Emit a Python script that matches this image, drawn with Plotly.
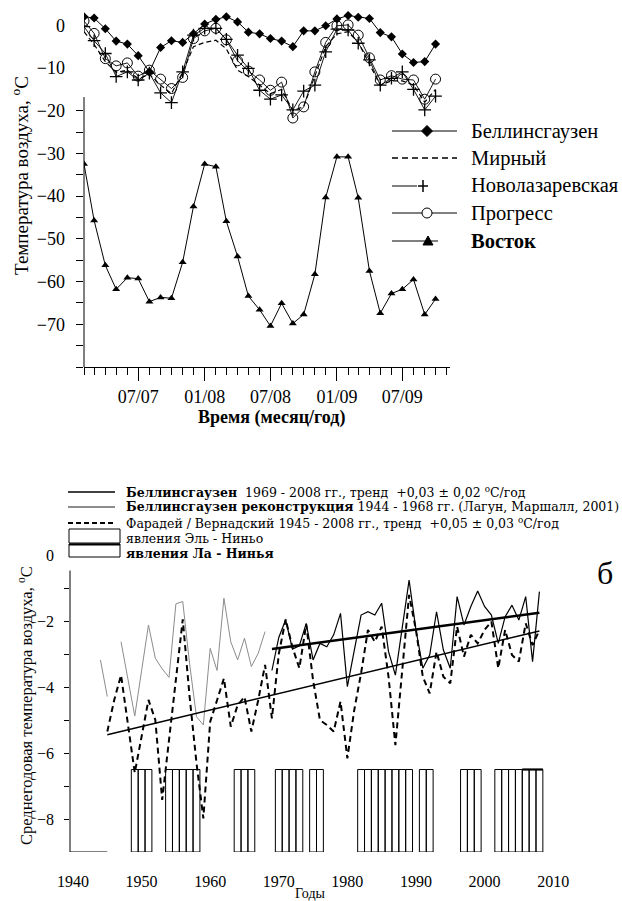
import plotly.graph_objects as go

W, H = 622, 901
FONT = "Liberation Serif, Tinos, Times New Roman, DejaVu Serif, serif"
WIDE_FONT = "DejaVu Serif, Liberation Serif, serif"

# ---------------- top panel data ----------------
months = ["2007-02-01", "2007-03-01", "2007-04-01", "2007-05-01", "2007-06-01", "2007-07-01",
          "2007-08-01", "2007-09-01", "2007-10-01", "2007-11-01", "2007-12-01",
          "2008-01-01", "2008-02-01", "2008-03-01", "2008-04-01", "2008-05-01", "2008-06-01",
          "2008-07-01", "2008-08-01", "2008-09-01", "2008-10-01", "2008-11-01", "2008-12-01",
          "2009-01-01", "2009-02-01", "2009-03-01", "2009-04-01", "2009-05-01", "2009-06-01",
          "2009-07-01", "2009-08-01", "2009-09-01", "2009-10-01"]

bellingshausen = [2.0, 1.7, -0.8, -3.7, -4.4, -7.1, -10.9, -5.2, -3.6, -4.0, -2.0,
                  0.3, 1.4, 2.0, 0.8, -1.6, -2.0, -3.1, -3.7, -5.0, -1.3, -1.3, -0.1,
                  1.5, 2.3, 1.9, 1.6, -1.7, -2.7, -6.7, -8.7, -8.5, -4.4]
mirny = [-1.5, -4.5, -8.5, -11.0, -10.5, -12.5, -11.5, -14.0, -16.0, -11.0, -5.0,
         -4.0, -3.5, -5.5, -10.5, -12.0, -14.0, -16.0, -15.0, -20.0, -19.0, -12.0, -5.0,
         -2.0, -1.5, -4.0, -9.0, -14.0, -13.0, -13.0, -14.0, -18.0, -15.0]
novolazarevskaya = [-0.3, -3.6, -6.6, -12.0, -10.9, -12.8, -11.2, -15.8, -18.1, -10.9, -2.3,
                    -0.7, -0.7, -3.3, -7.0, -10.1, -15.2, -17.3, -16.3, -19.8, -15.4, -14.0, -6.2,
                    -0.9, -1.1, -4.2, -8.1, -14.0, -12.4, -10.9, -15.0, -19.8, -16.6]
progress = [1.0, -1.9, -7.8, -9.5, -8.8, -11.9, -10.5, -12.6, -14.8, -12.2, -3.1,
            -1.3, -0.7, -3.4, -8.3, -10.7, -12.8, -15.2, -13.3, -21.7, -19.1, -10.9, -4.0,
            -0.1, 0.1, -2.3, -7.6, -12.8, -11.8, -12.6, -12.8, -17.3, -12.6]
vostok = [-32.5, -45.7, -56.2, -61.8, -59.1, -59.3, -64.7, -63.7, -63.9, -55.5, -42.4,
          -32.5, -33.1, -45.9, -54.1, -63.4, -66.6, -70.4, -65.1, -69.8, -67.7, -58.3, -40.3,
          -30.8, -30.8, -40.4, -57.5, -67.4, -62.8, -61.8, -59.5, -67.7, -64.1]

top_ytick_vals = [0, -10, -20, -30, -40, -50, -60, -70]
top_legend_names = ["Беллинсгаузен", "Мирный", "Новолазаревская", "Прогресс", "Восток"]

# ---------------- bottom panel data ----------------
recon_years = list(range(1944, 1969))
recon_vals = [-3.18, -4.29, None, -2.63, -3.8, -4.88, -3.5, -2.12, -3.13, -3.45, -3.71,
              -1.48, -1.41, -3.3, -4.9, -5.15, -2.83, -3.5, -1.31, -2.63, -3.18, -2.52,
              -3.38, -2.98, -2.32]

bel_years = list(range(1969, 2009))
bel_vals = [-3.5, -2.5, -1.97, -2.85, -2.75, -2.07, -3.18, -2.68, -2.78, -2.42,
            -1.77, -3.99, -2.9, -1.82, -1.72, -1.82, -1.46, -2.93, -3.64, -2.2,
            -0.76, -2.27, -3.43, -3.03, -1.72, -2.88, -3.43, -1.26, -2.12, -1.56,
            -1.09, -1.56, -1.82, -2.68, -1.87, -1.52, -1.97, -1.26, -3.23, -1.11]

far_years = list(range(1945, 2009))
far_vals = [-5.35, -4.4, -3.64, -5.1, -6.6, -5.5, -4.39, -5.0, -7.42, -5.6,
            -3.8, -1.95, -4.3, -6.3, -7.98, -5.05, -4.4, -3.74, -5.2, -4.55,
            -4.3, -5.35, -4.4, -3.33, -4.95, -3.0, -1.95, -2.8, -3.43, -2.1,
            -3.8, -5.0, -5.15, -5.35, -4.44, -6.16, -4.7, -3.58, -2.27, -2.63,
            -2.17, -3.69, -5.76, -3.5, -1.21, -2.27, -3.69, -4.19, -2.93, -3.69,
            -3.89, -2.17, -3.08, -2.42, -2.68, -2.27, -2.02, -3.43, -2.27, -3.03,
            -3.23, -2.07, -2.73, -2.27]

trend_bel_years = [1969, 2008]
trend_bel_vals = [-2.85, -1.75]
trend_far_years = [1945, 2008]
trend_far_vals = [-5.45, -2.30]

enso_years = [1949, 1950, 1951, 1954, 1955, 1956, 1957, 1958, 1964, 1965, 1966,
              1970, 1971, 1972, 1973, 1975, 1976, 1982, 1983, 1984, 1985, 1986, 1987,
              1988, 1989, 1991, 1992, 1997, 1998, 1999, 2002, 2003, 2004, 2005, 2006,
              2007, 2008]
la_nina_years = [2006, 2007, 2008]
enso_base = -9.0
enso_top = -6.5

bottom_xtick_vals = [1940, 1950, 1960, 1970, 1980, 1990, 2000, 2010]
bottom_ytick_vals = [0, -2, -4, -6, -8]


def px(x):
    return x / W


def py(y):
    return 1 - y / H


fig = go.Figure()

# ---------------- top traces ----------------
blk = "black"
fig.add_trace(go.Scatter(x=months, y=mirny, mode="lines",
                         line=dict(color=blk, width=1.2, dash="5px,3px"),
                         xaxis="x", yaxis="y", name=top_legend_names[1]))
fig.add_trace(go.Scatter(x=months, y=novolazarevskaya, mode="lines+markers",
                         line=dict(color=blk, width=0.9),
                         marker=dict(symbol="cross-thin", size=9, line=dict(color=blk, width=1.3)),
                         xaxis="x", yaxis="y", name=top_legend_names[2]))
fig.add_trace(go.Scatter(x=months, y=progress, mode="lines+markers",
                         line=dict(color=blk, width=0.9),
                         marker=dict(symbol="circle-open", size=10, color=blk, line=dict(color=blk, width=1)),
                         xaxis="x", yaxis="y", name=top_legend_names[3]))
fig.add_trace(go.Scatter(x=months, y=bellingshausen, mode="lines+markers",
                         line=dict(color=blk, width=1),
                         marker=dict(symbol="diamond", size=7, color=blk),
                         xaxis="x", yaxis="y", name=top_legend_names[0]))
fig.add_trace(go.Scatter(x=months, y=vostok, mode="lines+markers",
                         line=dict(color=blk, width=1),
                         marker=dict(symbol="triangle-up", size=7, color=blk),
                         xaxis="x", yaxis="y", name=top_legend_names[4]))

# ---------------- bottom traces ----------------
fig.add_trace(go.Bar(x=enso_years, y=[enso_top - enso_base] * len(enso_years), base=enso_base,
                     width=1, marker=dict(color="rgba(0,0,0,0)", line=dict(color=blk, width=1)),
                     xaxis="x2", yaxis="y2"))
fig.add_trace(go.Scatter(x=[min(la_nina_years) - 0.5, max(la_nina_years) + 0.5], y=[enso_top, enso_top],
                         mode="lines", line=dict(color=blk, width=2.2), xaxis="x2", yaxis="y2"))
fig.add_trace(go.Scatter(x=recon_years, y=recon_vals, mode="lines", connectgaps=False,
                         line=dict(color="#8c8c8c", width=1), xaxis="x2", yaxis="y2"))
fig.add_trace(go.Scatter(x=far_years, y=far_vals, mode="lines",
                         line=dict(color=blk, width=2, dash="6px,4px"), xaxis="x2", yaxis="y2"))
fig.add_trace(go.Scatter(x=bel_years, y=bel_vals, mode="lines",
                         line=dict(color=blk, width=1.2), xaxis="x2", yaxis="y2"))
fig.add_trace(go.Scatter(x=trend_far_years, y=trend_far_vals, mode="lines",
                         line=dict(color=blk, width=1.5), xaxis="x2", yaxis="y2"))
fig.add_trace(go.Scatter(x=trend_bel_years, y=trend_bel_vals, mode="lines",
                         line=dict(color=blk, width=2.6), xaxis="x2", yaxis="y2"))

# ---------------- shapes ----------------
shapes = []
shapes.append(dict(type="line", xref="paper", yref="y", x0=px(84), x1=px(84), y0=-16.8, y1=-80,
                   line=dict(color=blk, width=1)))
shapes.append(dict(type="line", xref="paper", yref="y2", x0=px(70), x1=px(70), y0=-0.47, y1=-9,
                   line=dict(color=blk, width=1)))
shapes.append(dict(type="line", xref="x2", yref="y2", x0=1939.56, x1=1945, y0=-9, y1=-9,
                   line=dict(color=blk, width=1)))


def hline(x0, x1, y, width=1, dash=None, color=blk):
    d = dict(type="line", xref="paper", yref="paper", x0=px(x0), x1=px(x1), y0=py(y), y1=py(y),
             line=dict(color=color, width=width))
    if dash:
        d["line"]["dash"] = dash
    return d


def path(points, fill=blk):
    s = "M " + " L ".join(f"{px(a):.5f},{py(b):.5f}" for a, b in points) + " Z"
    return dict(type="path", xref="paper", yref="paper", path=s, fillcolor=fill,
                line=dict(color=blk, width=1))


rows = [131, 158, 186, 213, 241]
shapes.append(hline(392, 457, rows[0]))
shapes.append(path([(427, rows[0] - 5.5), (432.5, rows[0]), (427, rows[0] + 5.5), (421.5, rows[0])]))
shapes.append(hline(392, 457, rows[1], width=1.3, dash="6px,4px"))
shapes.append(hline(392, 417, rows[2]))
shapes.append(hline(418, 428, rows[2], width=1.5))
shapes.append(dict(type="line", xref="paper", yref="paper", x0=px(423), x1=px(423),
                   y0=py(rows[2] - 6), y1=py(rows[2] + 6), line=dict(color=blk, width=1.5)))
shapes.append(hline(392, 457, rows[3]))
shapes.append(dict(type="circle", xref="paper", yref="paper", x0=px(422), x1=px(432),
                   y0=py(rows[3] + 5), y1=py(rows[3] - 5), fillcolor="white",
                   line=dict(color=blk, width=1)))
shapes.append(hline(392, 438, rows[4]))
shapes.append(path([(423, rows[4] + 4), (433, rows[4] + 4), (428, rows[4] - 5)]))

shapes.append(hline(68, 115, 492, width=1.6))
shapes.append(hline(68, 115, 507, width=0.9))
shapes.append(hline(68, 115, 523, width=2, dash="5px,3px"))
shapes.append(dict(type="rect", xref="paper", yref="paper", x0=px(69), x1=px(120),
                   y0=py(543), y1=py(529), line=dict(color=blk, width=1)))
shapes.append(dict(type="rect", xref="paper", yref="paper", x0=px(69), x1=px(120),
                   y0=py(557), y1=py(544), line=dict(color=blk, width=1)))
shapes.append(hline(69, 120, 544.5, width=2.2))

# ---------------- annotations ----------------
ann = []
for name, r in zip(top_legend_names, rows):
    txt = f"<b>{name}</b>" if name == "Восток" else name
    ann.append(dict(text=txt, x=px(469), y=py(r), xref="paper", yref="paper", xanchor="left",
                    yanchor="middle", showarrow=False, font=dict(size=20.5, family=FONT, color=blk)))

bottom_legend = [
    ("<b>Беллинсгаузен</b>  1969 - 2008 гг., тренд  +0,03 ± 0,02 <sup>o</sup>С/год", 492),
    ("<b>Беллинсгаузен реконструкция</b> 1944 - 1968 гг. (Лагун, Маршалл, 2001)", 507),
    ("Фарадей / Вернадский 1945 - 2008 гг., тренд  +0,05 ± 0,03 <sup>o</sup>С/год", 523),
    ("явления Эль - Ниньо", 538.5),
    ("<b>явления Ла - Нинья</b>", 553),
]
for txt, yy in bottom_legend:
    ann.append(dict(text=txt, x=px(124), y=py(yy), xref="paper", yref="paper", xanchor="left",
                    yanchor="middle", showarrow=False,
                    font=dict(size=12.5, family=WIDE_FONT, color=blk)))

ann.append(dict(text="Температура воздуха, <sup>o</sup>C", x=px(20), y=py(176), xref="paper",
                yref="paper", textangle=-90, showarrow=False, xanchor="center", yanchor="middle",
                font=dict(size=19, family=FONT, color=blk)))
ann.append(dict(text="<b>Время (месяц/год)</b>", x=px(271), y=py(417), xref="paper", yref="paper",
                showarrow=False, xanchor="center", yanchor="middle",
                font=dict(size=18, family=FONT, color=blk)))
ann.append(dict(text="Среднегодовая температура воздуха, <sup>o</sup>C", x=px(25), y=py(706),
                xref="paper", yref="paper", textangle=-90, showarrow=False, xanchor="center",
                yanchor="middle", font=dict(size=16.5, family=FONT, color=blk)))
ann.append(dict(text="Годы", x=px(310), y=py(893), xref="paper", yref="paper", showarrow=False,
                xanchor="center", yanchor="middle", font=dict(size=14, family=FONT, color=blk)))
ann.append(dict(text="б", x=px(605), y=py(573), xref="paper", yref="paper", showarrow=False,
                xanchor="center", yanchor="middle", font=dict(size=32, family=FONT, color=blk)))

# ---------------- layout ----------------
fig.update_layout(
    template="none",
    width=W, height=H, margin=dict(l=0, r=0, t=0, b=0, pad=0, autoexpand=False),
    paper_bgcolor="white", plot_bgcolor="rgba(0,0,0,0)", showlegend=False,
    font=dict(family=FONT, color=blk),
    shapes=shapes, annotations=ann,
    xaxis=dict(domain=[px(84), px(450)], type="date", range=["2007-02-01", "2009-11-10"],
               anchor="y", automargin=False, showline=True, linecolor=blk, linewidth=1,
               ticks="outside", ticklen=13, tickwidth=1, tickcolor=blk, dtick="M6",
               tick0="2007-01-01", tickformat="%m/%y", showgrid=False, zeroline=False,
               tickfont=dict(size=18, family=FONT, color=blk),
               minor=dict(dtick="M1", tick0="2007-01-01", ticks="outside", ticklen=7,
                          tickcolor=blk, tickwidth=1, showgrid=False)),
    yaxis=dict(domain=[py(367), py(3.96)], range=[-80, 5], anchor="x", automargin=False,
               tickmode="array", tickvals=top_ytick_vals, ticks="", showline=False,
               showgrid=False, zeroline=False, ticklabelstandoff=18,
               tickfont=dict(size=18, family=FONT, color=blk),
               minor=dict(tickmode="array", tickvals=list(range(-20, -81, -5)), ticks="outside",
                          ticklen=7, tickcolor=blk, tickwidth=1, showgrid=False)),
    xaxis2=dict(domain=[px(70), px(560)], range=[1939.56, 2011.0], anchor="y2", automargin=False,
                showline=False, ticks="", tickmode="array", tickvals=bottom_xtick_vals,
                showgrid=False, zeroline=False, ticklabelstandoff=18,
                tickfont=dict(size=16, family=FONT, color=blk)),
    yaxis2=dict(domain=[py(852), py(555)], range=[-9, 0], anchor="x2", automargin=False,
                tickmode="array", tickvals=bottom_ytick_vals, ticks="", showline=False,
                showgrid=False, zeroline=False, ticklabelstandoff=15,
                tickfont=dict(size=16, family=FONT, color=blk),
                minor=dict(tickmode="array", tickvals=[-1, -2, -3, -4, -5, -6, -7, -8],
                           ticks="outside", ticklen=5, tickcolor=blk, tickwidth=1, showgrid=False)),
)

fig.write_html("out.html")
